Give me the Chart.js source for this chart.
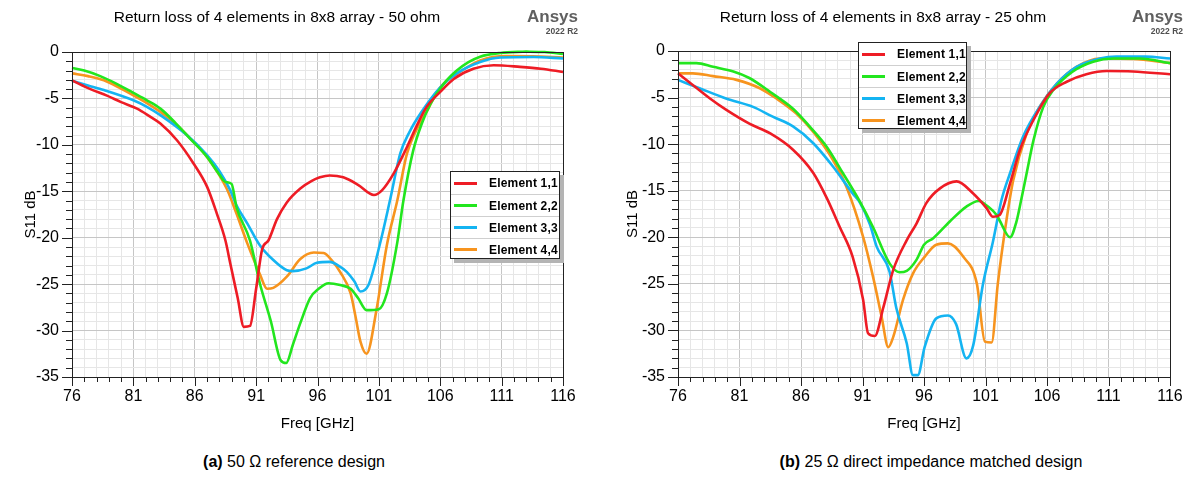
<!DOCTYPE html>
<html>
<head>
<meta charset="utf-8">
<script src="https://cdn.jsdelivr.net/npm/chart.js@4.4.1/dist/chart.umd.min.js"></script>
<style>
  html, body { margin: 0; padding: 0; background: #fff; }
  body { width: 1193px; height: 479px; position: relative; overflow: hidden;
         font-family: "Liberation Sans", Arial, sans-serif; color: #000; }
  canvas { position: absolute; top: 0; }
  .title { position: absolute; top: 8px; font-size: 15.5px; white-space: nowrap; transform: translateX(-50%); }
  .brand { position: absolute; top: 8px; text-align: right; color: #606060; font-weight: bold; }
  .brand .name { font-size: 17px; line-height: 18px; }
  .brand .ver { font-size: 8.5px; line-height: 10px; color: #505050; }
  .caption { position: absolute; top: 453px; font-size: 16px; white-space: nowrap; transform: translateX(-50%); }
  .legend { position: absolute; background: #fff; border: 1px solid #222; box-shadow: 4px 4px 0 #b4b4b4; box-sizing: border-box; }
  .legend .row { display: flex; align-items: center; height: 21px; border-top: 1px solid #cfcfcf; }
  .legend .row:first-child { border-top: none; height: 22px; }
  .legend .swatch { width: 23px; height: 3px; margin-left: 3px; margin-right: 12px; }
  .legend .lbl { font-weight: bold; font-size: 12px; letter-spacing: 0.2px; }
</style>
</head>
<body>
<canvas id="chartA" width="596" height="440" style="left:0px;width:596px;height:440px"></canvas>
<canvas id="chartB" width="587" height="440" style="left:606px;width:587px;height:440px"></canvas>

<div class="title" style="left:277px">Return loss of 4 elements in 8x8 array - 50 ohm</div>
<div class="title" style="left:883px">Return loss of 4 elements in 8x8 array - 25 ohm</div>
<div class="brand" style="left:520px;width:58px"><div class="name">Ansys</div><div class="ver">2022 R2</div></div>
<div class="brand" style="left:1125px;width:58px"><div class="name">Ansys</div><div class="ver">2022 R2</div></div>
<div class="caption" style="left:294px"><b>(a)</b> 50 Ω reference design</div>
<div class="caption" style="left:931px"><b>(b)</b> 25 Ω direct impedance matched design</div>
<div class="legend" id="legendA" style="left:450px;top:171px;width:110px;height:88px"></div>
<div class="legend" id="legendB" style="left:858px;top:42px;width:109px;height:87px"></div>

<script>
// Axis limits and labels
const FREQ_MIN = 76, FREQ_MAX = 116;
const DB_MIN = -35, DB_MAX = 0;
const seriesNames = ['Element 1,1', 'Element 2,2', 'Element 3,3', 'Element 4,4'];
const seriesColors = ['#ee1c25', '#22e61e', '#14b4f2', '#f7941e'];

// (a) 50 ohm reference design: frequency [GHz] and S11 [dB]
const a11_f  = [76, 77.5, 78.85, 80, 81.3, 82.3, 83.2, 84.55, 85.9, 87.0, 87.8, 88.5, 88.9, 89.5, 90.0, 90.5, 91.0, 91.5, 92.0, 92.7, 93.5, 94.6, 95.5, 96.2, 97.0, 98.1, 99.3, 100.6, 101.25, 102.2, 103.3, 104.1, 104.9, 106.0, 107.1, 108.7, 110.35, 112.5, 114.2, 116];
const a11_db = [-3.05, -4.0, -4.7, -5.4, -6.1, -6.9, -7.7, -9.5, -12.0, -14.5, -17.4, -20.3, -22.8, -26.5, -29.6, -29.5, -25.5, -21.2, -20.3, -18.0, -16.2, -14.7, -13.9, -13.5, -13.3, -13.5, -14.3, -15.4, -14.9, -13.1, -10.2, -7.9, -5.9, -4.3, -2.9, -1.8, -1.43, -1.6, -1.8, -2.15];

const a22_f  = [76, 77, 78.3, 79.6, 81.0, 82.1, 83.2, 84.4, 85.6, 87.0, 88.0, 88.5, 89.0, 89.4, 90.5, 91.3, 92.2, 93.0, 93.45, 94.0, 94.6, 95.4, 96.1, 96.9, 97.85, 98.7, 99.3, 100.0, 101.0, 101.65, 102.5, 103.0, 103.8, 104.5, 105.2, 106.3, 107.35, 108.3, 109.25, 110.9, 113.0, 114.5, 116];
const a22_db = [-1.72, -2.0, -2.6, -3.4, -4.4, -5.2, -6.1, -7.6, -9.3, -11.3, -13.2, -14.0, -14.2, -16.7, -20.3, -24.9, -29.0, -33.2, -33.5, -31.5, -29.2, -26.5, -25.5, -24.9, -25.1, -25.5, -26.5, -27.8, -27.7, -26.0, -20.5, -16.0, -10.6, -7.7, -5.6, -3.4, -2.0, -1.1, -0.5, -0.1, 0.05, 0.0, -0.2];

const a33_f  = [76, 77.3, 78.6, 81.0, 82.1, 83.2, 85.4, 87.0, 88.0, 88.9, 89.4, 90.3, 91.3, 92.4, 93.5, 94.0, 95.1, 95.95, 97.0, 97.7, 98.4, 99.0, 99.5, 100.15, 101.1, 101.9, 102.75, 103.5, 104.4, 106.0, 107.35, 109.25, 110.9, 113.6, 116];
const a33_db = [-3.1, -3.6, -4.1, -5.2, -5.9, -6.8, -9.0, -11.1, -12.8, -14.9, -16.5, -18.5, -20.8, -22.4, -23.5, -23.6, -23.3, -22.7, -22.6, -23.0, -23.7, -24.7, -25.8, -25.1, -20.6, -16.0, -10.9, -8.6, -6.6, -3.8, -2.3, -1.08, -0.6, -0.54, -0.7];

const a44_f  = [76, 77.3, 78.6, 79.8, 81.0, 82.1, 83.2, 84.3, 85.4, 87.0, 88.6, 89.4, 90.25, 91.3, 91.9, 92.4, 93.5, 94.6, 95.7, 96.5, 97.2, 97.85, 98.7, 99.1, 99.5, 100.0, 100.8, 101.65, 102.5, 103.3, 104.95, 106.0, 107.6, 109.25, 111.4, 113.5, 116];
const a44_db = [-2.3, -2.6, -3.05, -3.8, -4.66, -5.5, -6.45, -7.6, -9.0, -11.3, -14.7, -17.4, -20.5, -23.9, -25.5, -25.4, -24.2, -22.3, -21.6, -21.65, -22.5, -23.7, -26.0, -28.5, -31.2, -32.5, -27.8, -20.8, -16.0, -10.9, -6.3, -3.8, -2.15, -0.9, -0.43, -0.45, -0.6];

// (b) 25 ohm direct impedance matched design
const b11_f  = [76, 77.2, 78.6, 79.9, 81.8, 83.5, 85.35, 87.0, 88.1, 89.15, 90.2, 91.05, 91.45, 92.0, 92.7, 93.5, 94.6, 95.4, 96.2, 97.3, 98.65, 100.0, 101.1, 101.6, 102.15, 103.0, 103.8, 104.9, 106.2, 107.6, 109.2, 110.85, 113.0, 116];
const b11_db = [-2.4, -3.65, -5.1, -6.3, -7.8, -8.85, -10.6, -13.1, -15.8, -18.9, -22.1, -26.7, -30.3, -30.6, -27.5, -23.5, -20.3, -18.5, -16.3, -14.75, -14.0, -15.3, -16.9, -17.8, -17.6, -14.2, -10.6, -7.4, -4.55, -3.3, -2.5, -2.15, -2.2, -2.5];

const b22_f  = [76, 77.5, 78.85, 80.5, 81.8, 83.5, 85.35, 86.7, 88.1, 89.4, 90.8, 91.85, 93.2, 94.0, 94.6, 95.4, 96.0, 96.75, 98.1, 99.45, 100.45, 101.2, 101.9, 102.15, 103.0, 103.5, 103.9, 104.35, 104.9, 105.7, 106.5, 108.1, 109.75, 111.4, 113.55, 116];
const b22_db = [-1.3, -1.3, -1.7, -2.2, -2.9, -4.4, -6.2, -8.1, -10.3, -13.1, -16.2, -18.9, -22.8, -23.75, -23.6, -22.4, -20.8, -20.1, -18.3, -16.7, -16.1, -16.7, -17.6, -18.2, -20.0, -18.4, -16.0, -13.1, -9.6, -6.0, -4.2, -2.2, -1.15, -0.8, -0.8, -1.3];

const b33_f  = [76, 77.75, 79.9, 82.1, 83.7, 85.35, 87.0, 88.6, 90.2, 90.8, 91.6, 92.15, 93.2, 93.75, 94.6, 95.1, 95.5, 96.05, 97.0, 97.95, 98.6, 99.45, 100.0, 100.8, 101.6, 102.3, 103.0, 104.05, 105.4, 106.8, 108.4, 110.3, 111.65, 114, 116];
const b33_db = [-3.1, -4.0, -5.1, -6.0, -7.05, -8.1, -9.9, -12.4, -15.3, -16.3, -18.6, -21.0, -23.7, -27.6, -31.4, -34.8, -34.8, -31.8, -28.7, -28.4, -29.3, -33.0, -31.6, -25.0, -20.5, -16.0, -13.1, -9.2, -6.0, -3.5, -1.7, -0.8, -0.6, -0.6, -0.8];

const b44_f  = [76, 77.2, 78.85, 80.75, 82.65, 84.0, 85.6, 87.0, 88.6, 89.7, 91.05, 91.85, 92.55, 93.1, 93.5, 94.3, 95.1, 96.05, 97.0, 97.95, 99.2, 100.3, 100.95, 101.5, 102.0, 102.7, 103.25, 104.35, 105.4, 106.8, 108.4, 110.3, 113.0, 116];
const b44_db = [-2.4, -2.4, -2.7, -3.1, -4.0, -5.1, -6.7, -8.7, -11.7, -14.6, -19.95, -24.2, -28.5, -31.8, -30.7, -26.7, -23.9, -22.1, -20.8, -20.65, -22.1, -25.0, -31.2, -31.3, -25.0, -18.2, -13.9, -8.85, -6.0, -3.5, -1.7, -0.8, -0.86, -1.3];

const panelA = [[a11_f, a11_db], [a22_f, a22_db], [a33_f, a33_db], [a44_f, a44_db]];
const panelB = [[b11_f, b11_db], [b22_f, b22_db], [b33_f, b33_db], [b44_f, b44_db]];

Chart.defaults.font.family = '"Liberation Sans", Arial, sans-serif';
Chart.defaults.color = '#000';

// Black frame round the plot and outer tick marks of two lengths
const frameAndTicks = {
  id: 'frameAndTicks',
  afterDraw(chart) {
    const { ctx, chartArea: a, scales: { x, y } } = chart;
    ctx.save();
    ctx.strokeStyle = '#222';
    ctx.lineWidth = 1;
    ctx.beginPath();
    for (let v = DB_MIN; v <= DB_MAX; v++) {
      const py = Math.round(y.getPixelForValue(v)) + 0.5;
      const len = v % 5 === 0 ? 10 : 6;
      ctx.moveTo(a.left - len, py);
      ctx.lineTo(a.left, py);
    }
    for (let f = FREQ_MIN; f <= FREQ_MAX; f++) {
      const px = Math.round(x.getPixelForValue(f)) + 0.5;
      const len = (f - FREQ_MIN) % 5 === 0 ? 9 : 5;
      ctx.moveTo(px, a.bottom);
      ctx.lineTo(px, a.bottom + len);
    }
    ctx.stroke();
    ctx.strokeRect(Math.round(a.left) + 0.5, Math.round(a.top) + 0.5,
                   Math.round(a.right - a.left), Math.round(a.bottom - a.top));
    ctx.restore();
  }
};

function buildChart(canvasId, legendId, series, box) {
  const datasets = series.map(([f, db], i) => ({
    label: seriesNames[i],
    data: f.map((fv, k) => ({ x: fv, y: db[k] })),
    borderColor: seriesColors[i],
    backgroundColor: seriesColors[i],
    borderWidth: 2.6,
    pointRadius: 0,
    cubicInterpolationMode: 'monotone',
    clip: 3
  }));
  const canvas = document.getElementById(canvasId);
  const W = canvas.width, H = canvas.height;
  const chart = new Chart(canvas, {
    type: 'line',
    data: { datasets },
    plugins: [frameAndTicks],
    options: {
      responsive: false,
      animation: false,
      devicePixelRatio: 1,
      layout: { padding: { left: 0, top: box.top, right: W - box.right, bottom: 0 } },
      plugins: { legend: { display: false }, tooltip: { enabled: false } },
      scales: {
        x: {
          type: 'linear', min: FREQ_MIN, max: FREQ_MAX,
          afterFit: s => { s.height = H - box.bottom; },
          ticks: {
            stepSize: 1, autoSkip: false, maxRotation: 0, padding: 10,
            font: { size: 16 },
            callback: v => ((v - FREQ_MIN) % 5 === 0 ? String(v) : '')
          },
          grid: {
            drawTicks: false,
            color: c => ((c.tick.value - FREQ_MIN) % 5 === 0 ? '#c6c6c6' : '#e6e6e6'),
            lineWidth: 1
          },
          border: { display: false },
          title: { display: true, text: 'Freq [GHz]', font: { size: 15 }, padding: { top: 0, bottom: 7 } }
        },
        y: {
          type: 'linear', min: DB_MIN, max: DB_MAX,
          afterFit: s => { s.width = box.left; },
          ticks: {
            stepSize: 1, autoSkip: false, padding: 13,
            font: { size: 16 },
            callback: v => (v % 5 === 0 ? String(v) : '')
          },
          grid: {
            drawTicks: false,
            color: c => (c.tick.value % 5 === 0 ? '#c6c6c6' : '#e6e6e6'),
            lineWidth: 1
          },
          border: { display: false },
          title: { display: true, text: 'S11 dB', font: { size: 15 }, padding: { top: box.yTitle, bottom: 0 } }
        }
      }
    }
  });

  // HTML legend built from the chart's own datasets
  const legend = document.getElementById(legendId);
  chart.data.datasets.forEach(ds => {
    const row = document.createElement('div');
    row.className = 'row';
    const sw = document.createElement('span');
    sw.className = 'swatch';
    sw.style.background = ds.borderColor;
    const lbl = document.createElement('span');
    lbl.className = 'lbl';
    lbl.textContent = ds.label;
    row.appendChild(sw);
    row.appendChild(lbl);
    legend.appendChild(row);
  });
  return chart;
}

buildChart('chartA', 'legendA', panelA, { left: 72, right: 563, top: 52, bottom: 377, yTitle: 22 });
buildChart('chartB', 'legendB', panelB, { left: 72, right: 564, top: 51, bottom: 377, yTitle: 18 });
</script>
</body>
</html>
